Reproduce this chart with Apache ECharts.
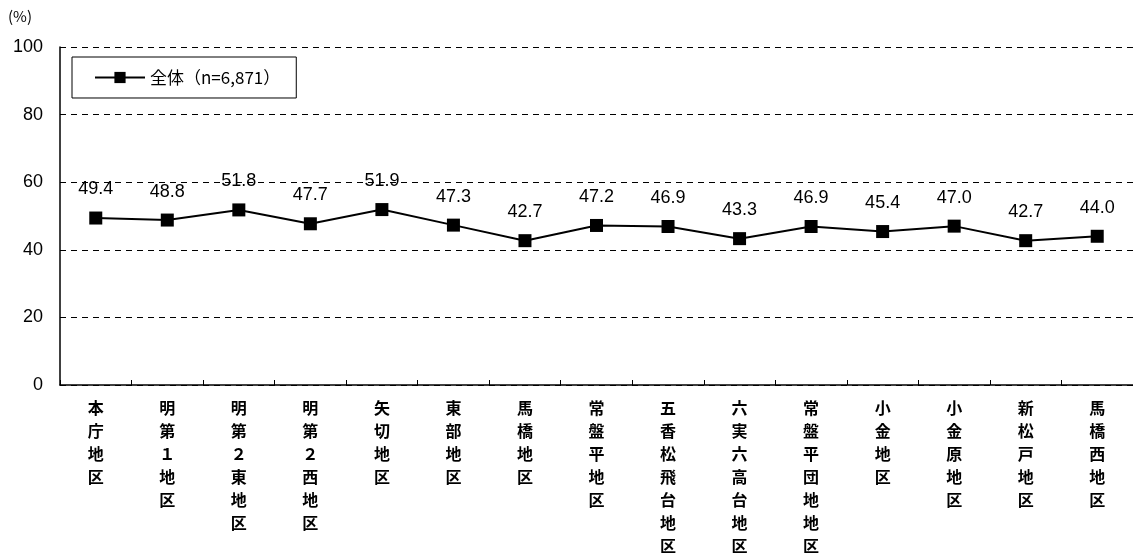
<!DOCTYPE html>
<html><head><meta charset="utf-8">
<script src="https://cdn.jsdelivr.net/npm/echarts@6/dist/echarts.min.js"></script>
<style>html,body{margin:0;padding:0;background:#fff}#c{width:1133px;height:553px}</style>
</head><body><div id="c"></div>
<script>
const categories = ['本庁地区','明第1地区','明第2東地区','明第2西地区','矢切地区','東部地区','馬橋地区','常盤平地区','五香松飛台地区','六実六高台地区','常盤平団地地区','小金地区','小金原地区','新松戸地区','馬橋西地区'];
const values = [49.4,48.8,51.8,47.7,51.9,47.3,42.7,47.2,46.9,43.3,46.9,45.4,47.0,42.7,44.0];
const seriesName = '全体（n=6,871）';
const yTicks = [0,20,40,60,80,100];

const chart = echarts.init(document.getElementById('c'));
const fw = s => s.replace(/[0-9]/g, d => String.fromCharCode(d.charCodeAt(0) + 0xFEE0));
chart.setOption({
  animation:false,
  textStyle:{fontFamily:'"Noto Sans CJK JP", sans-serif'},
  grid:{left:60,right:0,top:47,bottom:168,outerBoundsMode:'none',containLabel:false},
  legend:{
    data:[seriesName],
    left:72, top:57, padding:[12,16,12,22], itemWidth:50, itemHeight:14, itemGap:6,
    borderColor:'#000', borderWidth:1, backgroundColor:'#fff',
    textStyle:{fontSize:17,color:'#000',fontFamily:'"Noto Sans CJK JP", sans-serif'}
  },
  graphic:[{type:'text',left:8,top:9,style:{text:'(%)',fontSize:15,fill:'#000',fontFamily:'"Noto Sans CJK JP", sans-serif'}}],
  xAxis:{
    type:'category', data:categories, boundaryGap:true,
    axisLine:{lineStyle:{color:'#000',width:1.5}},
    axisTick:{show:true,length:5,inside:true,lineStyle:{color:'#000'}},
    axisLabel:{interval:0,margin:11,fontSize:16,fontWeight:'bold',lineHeight:23,color:'#000',
      fontFamily:'"Noto Sans CJK JP", sans-serif',
      formatter:v=>Array.from(fw(v)).join('\n')}
  },
  yAxis:{
    type:'value', min:yTicks[0], max:yTicks[yTicks.length-1], interval:20,
    axisLine:{show:true,lineStyle:{color:'#000',width:1.5}},
    axisTick:{show:false},
    axisLabel:{fontSize:18,color:'#000',margin:17,fontFamily:'"Liberation Sans", Arial, sans-serif'},
    splitLine:{show:true,lineStyle:{color:'#000',type:[6,5],width:1}}
  },
  series:[{
    name:seriesName, type:'line', data:values,
    symbol:'rect', symbolSize:13,
    lineStyle:{color:'#000',width:2}, itemStyle:{color:'#000'},
    label:{show:true,position:'top',distance:13,fontSize:18,color:'#000',
      fontFamily:'"Liberation Sans", Arial, sans-serif',formatter:p=>p.value.toFixed(1)}
  }]
});
</script></body></html>
